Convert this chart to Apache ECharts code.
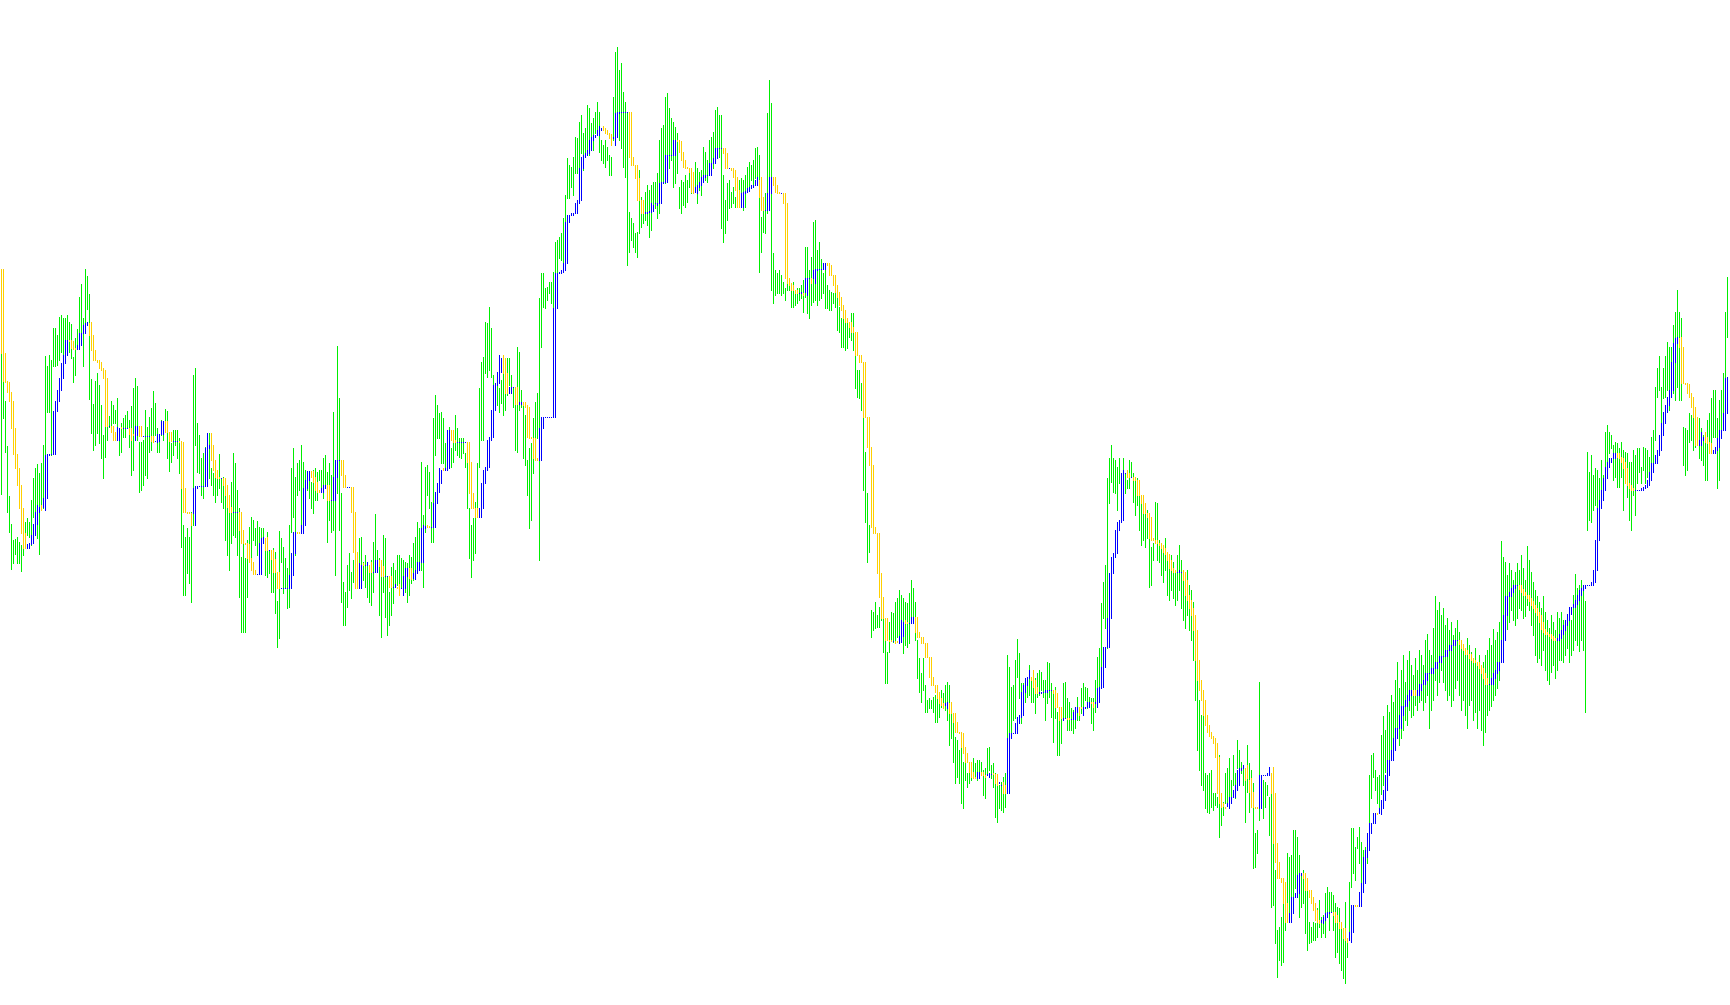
<!DOCTYPE html>
<html><head><meta charset="utf-8">
<script src="https://cdn.jsdelivr.net/npm/echarts/dist/echarts.min.js"></script>
<style>html,body{margin:0;padding:0;background:#fff;overflow:hidden;} #chart{width:1730px;height:1005px;}</style>
</head><body><div id="chart"></div>
<script>
// Price data in points (one bar per period). high / low of each bar.
const high = [
648,663,599,554,504,476,460,461,463,458,455,478,478,482,478,500,522,532,536,527,
537,555,644,634,645,640,672,672,665,683,685,682,682,685,678,676,643,662,671,703,
716,682,731,724,706,621,596,619,627,615,595,565,582,587,584,599,595,590,602,560,
577,582,585,589,580,594,612,622,614,558,558,560,
590,573,583,592,609,597,572,565,580,578,591,589,559,557,570,570,570,562,512,475,
463,472,463,488,625,632,577,565,542,547,553,548,567,532,527,532,522,546,522,523,
515,495,505,518,547,537,510,492,443,468,442,460,473,483,480,472,479,473,472,472,
462,468,450,441,452,448,399,469,462,453,442,432,475,
532,552,523,537,540,555,538,530,527,525,518,530,532,528,530,530,542,545,528,537,
525,588,540,654,602,507,418,408,435,447,428,440,442,443,462,463,438,445,435,435,
440,458,486,450,442,435,465,462,423,408,433,437,430,445,445,442,440,438,437,445,
443,457,463,478,472,538,485,533,535,528,498,582,
605,595,587,588,582,557,570,573,552,560,585,572,562,562,562,547,538,492,475,482,
498,537,612,638,643,678,677,693,672,625,617,617,612,620,627,617,642,642,625,613,
595,653,648,610,598,585,540,552,557,582,598,607,702,727,727,712,713,718,718,728,
758,760,763,767,782,805,842,835,833,843,863,862,878,
885,867,872,895,892,877,882,888,898,888,860,855,860,853,845,843,903,948,953,930,
937,908,898,888,788,782,777,767,768,830,803,793,808,815,810,815,818,818,827,860,
872,875,903,907,892,882,878,873,867,813,820,818,825,820,828,830,827,838,832,828,
830,853,848,840,860,863,868,890,893,885,885,825,
800,817,820,808,813,803,823,820,822,820,825,833,838,835,840,852,853,845,783,790,
807,887,920,897,747,730,727,730,725,718,712,717,722,717,718,710,712,712,715,720,
753,753,730,743,778,780,750,758,741,727,733,715,710,708,707,713,703,693,682,687,
677,678,673,687,687,650,630,630,617,595,548,507,475,
390,388,398,385,393,385,383,360,348,378,388,387,398,402,410,405,402,398,397,407,
420,412,398,360,342,327,342,315,300,302,300,303,305,308,303,310,307,315,318,315,
287,287,263,260,250,268,238,247,227,235,238,242,237,240,240,238,230,232,252,253,
235,237,227,223,215,218,223,227,345,333,313,315,
340,361,347,317,317,322,323,335,323,318,322,327,330,328,320,320,338,337,317,310,
313,288,288,293,317,318,302,298,292,290,293,303,293,312,317,313,312,303,302,302,
320,343,352,397,418,435,522,542,555,542,540,533,542,527,542,527,520,540,538,527,
520,522,513,498,497,495,490,482,453,457,498,497,460,
455,450,462,448,440,445,438,430,445,455,440,428,420,430,415,410,398,370,330,300,285,
300,227,225,227,230,207,207,203,245,193,198,227,232,242,220,245,227,260,250,238,
235,223,255,237,230,217,167,170,318,225,220,218,215,203,217,170,130,70,73,83,
108,77,147,143,145,170,170,163,145,127,130,120,118,78,73,78,77,92,100,83,
85,107,113,108,108,105,97,93,92,78,72,98,60,118,172,172,153,163,173,158,
150,153,167,225,245,247,230,223,225,
265,284,270,295,288,305,298,320,338,312,330,345,318,340,349,335,325,342,330,350,
345,335,360,366,350,345,372,404,390,398,385,392,375,382,370,378,365,372,380,368,
360,350,345,362,355,348,340,352,338,345,330,338,345,350,362,355,371,360,368,378,
459,443,438,425,437,430,420,428,437,430,445,432,420,454,440,428,418,410,404,398,
392,404,388,380,372,385,378,370,388,382,388,380,372,385,392,380,405,426,412,415,
420,410,399,
548,528,545,525,532,530,522,540,525,568,575,568,565,555,558,557,552,558,550,548,
547,538,538,550,545,552,552,533,553,552,550,543,563,570,613,632,644,613,632,644,
658,653,653,675,688,710,688,682,573,572,570,587,585,582,593,582,582,572,565,560,
580,587,602,610,610,582,600,610,627,688,723
];
const low = [
506,582,548,488,468,431,437,446,437,437,429,445,452,465,463,455,483,485,462,446,
492,492,546,588,588,545,634,634,635,640,648,638,655,645,648,642,618,625,652,660,
662,634,675,691,601,567,550,555,567,557,542,522,543,560,573,568,577,577,568,545,
548,563,563,572,553,525,530,570,560,508,510,515,
525,522,548,550,563,565,548,548,565,560,568,542,529,538,545,555,542,527,453,405,
405,427,417,398,475,555,528,527,505,502,515,515,522,515,505,498,505,512,498,492,
460,445,430,457,465,463,445,403,368,368,368,403,440,430,460,455,445,458,427,460,
425,423,427,408,408,387,353,362,438,407,412,392,393,
468,483,445,505,510,473,495,490,510,502,492,487,500,500,520,508,502,512,458,480,
468,470,425,507,470,398,375,375,393,410,402,418,412,412,420,425,420,413,403,398,
395,408,428,428,385,363,408,383,365,375,385,397,417,415,405,412,417,408,398,405,
417,420,430,437,438,430,413,468,505,492,458,458,
545,562,562,537,537,533,530,533,533,538,550,545,543,542,547,533,492,442,423,440,
447,483,533,560,560,627,623,630,623,607,595,595,588,597,585,590,605,615,607,593,
550,548,590,593,542,535,505,472,480,527,542,562,440,653,693,692,700,707,697,692,
727,728,742,740,733,737,802,802,813,805,827,827,830,
847,830,843,850,845,850,850,867,867,848,840,837,833,840,825,825,860,883,888,860,
852,833,823,735,748,760,753,748,743,767,773,777,780,775,763,770,792,792,782,787,
812,817,817,827,832,840,813,817,827,792,787,795,793,798,813,807,808,812,797,810,
805,820,820,818,828,830,832,845,850,843,772,758,
767,780,792,793,797,793,793,798,793,790,793,812,812,820,815,822,823,728,748,768,
767,787,823,710,697,705,707,707,705,707,700,710,710,693,693,695,697,700,702,688,
703,687,682,695,698,700,695,700,702,707,692,692,690,690,697,693,670,668,653,653,
650,652,663,660,650,612,603,602,590,510,478,438,448,
363,370,372,373,373,380,348,317,317,348,360,358,358,363,365,362,347,355,353,357,
377,377,360,322,308,298,310,288,288,292,292,288,278,278,283,293,293,290,280,255,
262,238,217,223,217,197,192,220,213,217,220,222,223,220,227,228,205,202,225,230,
222,213,183,178,192,190,188,193,262,260,265,280,
282,323,302,277,297,298,303,305,298,298,287,303,305,310,303,280,297,303,283,258,
282,245,245,257,282,282,270,270,270,267,272,280,280,287,292,300,292,295,277,270,
288,303,312,333,382,372,352,497,518,508,507,490,517,517,497,507,512,512,523,498,
485,495,470,455,460,453,462,413,415,440,457,440,438,
425,418,430,405,400,410,402,395,400,410,392,380,372,385,370,360,340,300,250,230,215,
210,192,188,187,193,190,195,193,163,175,185,197,197,193,197,215,202,232,215,227,
215,178,208,188,202,132,133,147,180,193,182,193,205,165,93,95,57,23,40,35,
38,70,85,78,85,103,112,107,83,93,97,67,50,57,58,60,60,63,73,63,
67,63,88,70,88,70,43,48,37,30,22,17,43,60,113,127,120,152,137,115,
123,137,137,177,202,223,210,197,187,
206,215,228,238,240,250,245,262,268,255,262,270,280,275,290,283,285,295,290,298,
300,290,298,305,272,290,300,320,305,318,330,318,310,300,305,294,300,312,320,305,
290,300,285,272,295,300,280,288,272,290,270,255,268,285,290,294,300,305,312,320,
360,370,385,371,378,390,380,375,382,392,390,382,384,395,390,375,365,345,338,342,
335,350,330,320,316,328,335,322,330,340,340,338,345,352,338,345,350,360,355,349,
360,350,288,
470,480,478,490,495,485,490,500,512,520,537,547,552,520,523,513,513,523,490,520,
503,480,470,505,485,517,528,517,530,517,523,517,520,528,560,603,610,565,602,603,
610,590,610,607,600,613,600,600,535,525,530,558,560,550,553,558,542,540,535,520,
520,547,557,563,563,512,520,563,587,587,663
];
// Step-trend indicator level at each bar; trendStart is the level before the first bar.
const trendStart = 731;
const trend = [
647,619,618,608,599,572,546,532,515,492,467,452,452,456,457,465,476,488,495,493,
490,502,545,546,546,546,589,599,610,622,637,645,660,660,659,652,651,651,655,667,
667,675,677,678,665,650,640,640,638,632,630,622,574,574,574,568,560,560,573,572,
572,572,572,572,566,560,565,574,574,564,564,564,
564,564,564,559,558,559,566,566,579,579,568,568,559,559,559,559,559,558,512,488,
488,487,487,475,512,514,514,514,514,514,552,567,555,540,530,523,522,522,522,515,
505,493,488,488,488,488,488,470,457,457,456,442,438,430,426,426,426,457,462,463,
450,450,450,441,428,428,412,412,412,412,412,412,425,
447,468,468,467,467,475,512,520,529,529,523,518,510,508,508,512,515,515,500,500,
500,523,540,540,540,525,513,513,513,513,488,448,412,412,437,435,435,435,438,428,
428,428,440,440,434,424,424,424,424,413,413,413,416,412,405,412,424,432,432,422,
421,427,430,438,438,472,475,474,473,473,473,497,
508,517,532,530,530,532,570,570,560,558,558,558,558,558,558,558,538,507,492,492,
483,483,492,517,530,533,560,563,590,615,617,628,645,642,627,607,607,613,613,613,
596,596,598,598,595,593,563,562,562,542,540,540,572,583,583,583,583,583,583,692,
727,727,728,730,737,778,785,785,787,787,797,800,832,
843,845,847,850,860,863,865,865,870,874,872,870,867,866,862,855,863,887,888,888,
888,888,888,888,843,835,835,822,800,800,787,787,788,788,789,797,795,797,797,817,
818,818,845,845,845,845,860,860,859,848,840,833,832,832,828,808,807,813,815,818,
823,825,825,825,837,837,842,852,852,852,852,847,
832,832,832,830,823,810,793,793,807,808,809,812,813,815,815,820,823,803,790,790,
790,807,823,823,815,808,807,807,807,797,722,717,715,710,710,707,707,707,708,705,
722,722,722,717,730,731,731,731,731,737,737,735,725,725,715,708,703,695,690,682,
678,678,673,668,668,645,645,638,638,583,583,553,535,
473,467,467,427,403,382,382,360,360,359,359,359,357,358,364,380,378,377,377,377,
383,383,368,363,363,357,357,343,343,323,315,315,308,302,297,295,292,297,298,287,
287,278,268,268,267,253,247,238,238,228,223,222,222,228,228,225,225,223,226,227,
226,226,217,215,218,215,207,207,262,267,267,267,
277,283,285,308,315,322,323,330,320,313,307,307,308,308,308,310,310,310,310,307,
293,293,280,282,282,282,281,281,281,288,293,293,285,292,293,293,298,298,297,293,
298,312,313,333,353,353,382,427,443,447,470,478,480,527,530,527,523,523,523,520,
520,505,505,497,487,487,483,462,460,460,457,457,455,
452,448,446,440,432,430,428,428,428,430,428,420,405,400,392,385,370,340,320,310,300,
285,275,268,264,262,257,243,207,197,193,194,192,197,203,203,210,215,230,232,232,
235,220,222,208,193,193,192,192,225,225,225,225,227,233,207,157,138,122,122,118,
97,78,78,87,103,103,107,125,127,127,122,110,110,103,97,90,80,78,77,80,
83,87,88,88,88,85,78,78,72,72,62,60,58,68,95,95,94,94,108,117,
143,150,167,177,177,187,187,186,192,
200,210,225,240,240,250,262,272,272,285,294,294,300,305,310,310,305,305,310,316,
316,320,327,327,327,332,332,338,338,344,344,344,350,350,355,355,360,360,360,356,
352,350,346,346,342,340,338,338,335,332,327,322,316,316,316,322,327,330,338,338,
360,385,404,404,408,412,415,415,415,411,408,405,405,402,399,395,392,388,385,378,
371,368,366,366,364,362,360,360,362,366,370,375,380,386,393,393,396,400,405,410,
412,415,415,
415,415,418,430,460,492,500,510,522,533,538,542,542,547,547,543,542,538,532,517,
515,512,510,510,510,510,510,512,513,515,520,528,537,537,545,550,565,577,588,595,
603,610,638,657,662,663,653,617,617,616,607,603,593,583,555,555,560,568,563,558,
557,547,547,550,553,562,570,570,587,622,623
];

const N = high.length;
if (low.length !== N || trend.length !== N) {
  throw new Error('length mismatch ' + N + ' ' + low.length + ' ' + trend.length);
}
const GREEN = '#00EE00', BLUE = '#0000FF', GOLD = '#FFD000';

const barData = high.map((h, i) => [i, h, low[i]]);
// each indicator histogram bar spans from the level two bars back to the current level
const stepData = trend.map((v, i) => {
  const prev = i >= 2 ? trend[i - 2] : trendStart;
  return [i, prev, v, v >= prev ? 1 : 0];
});

function vRect(api, color) {
  const x = api.value(0);
  const a = api.coord([x, api.value(1)]);
  const b = api.coord([x, api.value(2)]);
  const px = Math.round(a[0]);
  const top = Math.round(Math.min(a[1], b[1]));
  const bot = Math.round(Math.max(a[1], b[1]));
  return { type: 'rect', shape: { x: px, y: top, width: 1, height: bot - top + 1 }, style: { fill: color, stroke: null, lineWidth: 0 } };
}

const chart = echarts.init(document.getElementById('chart'), null, { renderer: 'canvas', devicePixelRatio: 1 });
chart.setOption({
  animation: false,
  backgroundColor: '#ffffff',
  grid: { left: 0, right: 0, top: 0, bottom: 0 },
  xAxis: { type: 'value', min: -0.5, max: 864.5, show: false },
  yAxis: { type: 'value', min: -5, max: 1000, show: false },
  tooltip: { show: false },
  series: [
    {
      type: 'custom', silent: true, progressive: 0, data: barData, encode: { x: 0, y: [1, 2] },
      renderItem: (params, api) => vRect(api, GREEN)
    },
    {
      type: 'custom', silent: true, progressive: 0, data: stepData, encode: { x: 0, y: [1, 2] },
      renderItem: (params, api) => vRect(api, api.value(3) ? BLUE : GOLD)
    }
  ]
});
</script></body></html>
